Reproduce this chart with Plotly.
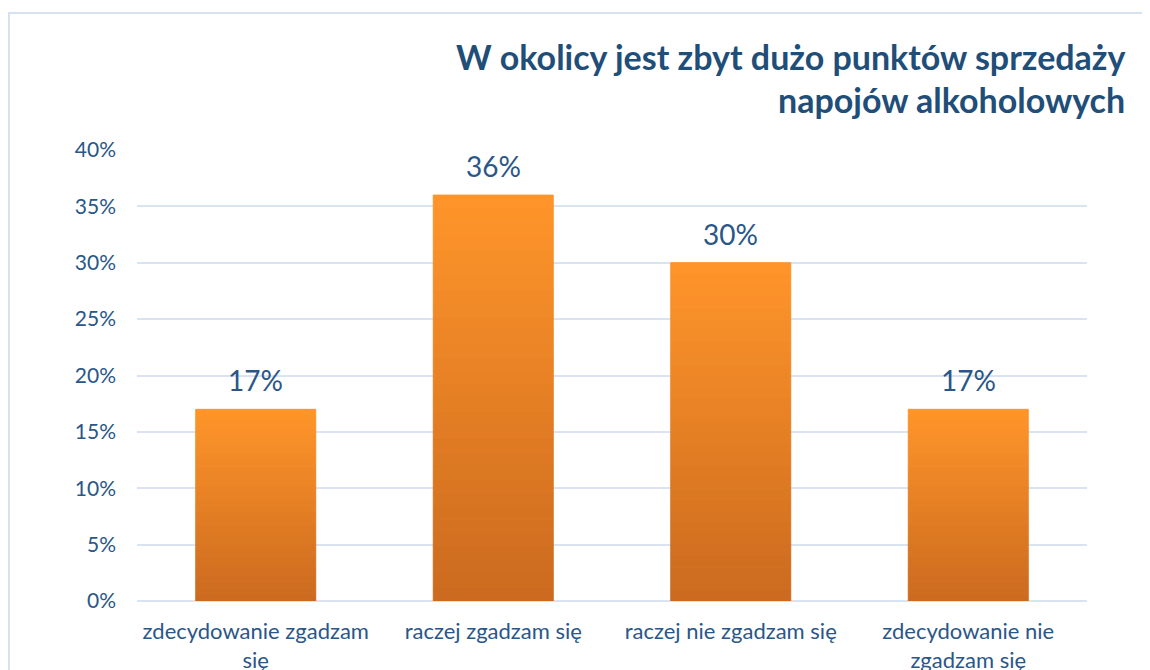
import plotly.graph_objects as go

categories = ["zdecydowanie zgadzam<br>się", "raczej zgadzam się", "raczej nie zgadzam się", "zdecydowanie nie<br>zgadzam się"]
values = [17, 36, 30, 17]
tick_vals = [0, 5, 10, 15, 20, 25, 30, 35, 40]
tick_text = [f"{v}%" for v in tick_vals]
title_lines = ["W okolicy jest zbyt dużo punktów sprzedaży", "napojów alkoholowych"]

FONT = "Lato"
BLUE = "#1F4E79"
LBL = "#2A5688"
GRID = "#D9E3F1"

# page offset (body margin) compensation
OFF = 8
L, R, T, B = 137 - OFF, 1150 - (1087 - OFF), 150 - OFF, 670 - (601 - OFF)
PW, PH = 1150 - L - R, 670 - T - B

top_rgb = (255, 149, 42)
bot_rgb = (203, 106, 31)
N = 30

fig = go.Figure()
for k in range(N):
    t = (k + 0.5) / N
    c = "rgb(%d,%d,%d)" % tuple(round(bot_rgb[i] + (top_rgb[i] - bot_rgb[i]) * t) for i in range(3))
    fig.add_trace(go.Bar(
        x=categories,
        y=[v / N for v in values],
        base=[v * k / N for v in values],
        marker=dict(color=c, line=dict(width=1, color=c)),
        hoverinfo="skip",
        showlegend=False,
    ))

for cat, v in zip(categories, values):
    fig.add_annotation(
        x=cat, y=v, xref="x", yref="y", text=f"{v}%",
        showarrow=False, yanchor="bottom", yshift=10,
        font=dict(family=FONT, size=28, color=LBL),
    )

fig.update_layout(
    width=1150, height=670,
    margin=dict(l=L, r=R, t=T, b=B, autoexpand=False),
    barmode="overlay",
    bargap=0.495,
    plot_bgcolor="white", paper_bgcolor="white",
    font=dict(family=FONT, color=LBL),
)
fig.update_xaxes(
    showgrid=False, showline=False, zeroline=False,
    tickfont=dict(family=FONT, size=22, color=LBL),
    ticks="", ticklabelstandoff=15, automargin=False,
)
fig.update_yaxes(
    range=[0, 40], tickvals=tick_vals, ticktext=tick_text,
    showgrid=True, gridcolor=GRID, gridwidth=2,
    zeroline=True, zerolinecolor=GRID, zerolinewidth=2,
    showline=False,
    tickfont=dict(family=FONT, size=21, color=LBL),
    ticklabelstandoff=20, automargin=False,
)

# chart area border
fig.add_shape(type="rect", xref="paper", yref="paper",
              x0=(9 - 137) / PW, x1=1.2, y0=-0.3, y1=(601 - 13) / PH,
              line=dict(color="#D6E2F2", width=2), fillcolor="rgba(0,0,0,0)", layer="below")

for line, ypx in zip(title_lines, [57, 99]):
    fig.add_annotation(
        text=f"<b>{line}</b>", xref="paper", yref="paper",
        x=(1127 - 137) / PW, y=(601 - ypx) / PH,
        xanchor="right", yanchor="middle", showarrow=False,
        font=dict(family=FONT, size=34, color=BLUE),
    )

fig.write_html("out.html")
